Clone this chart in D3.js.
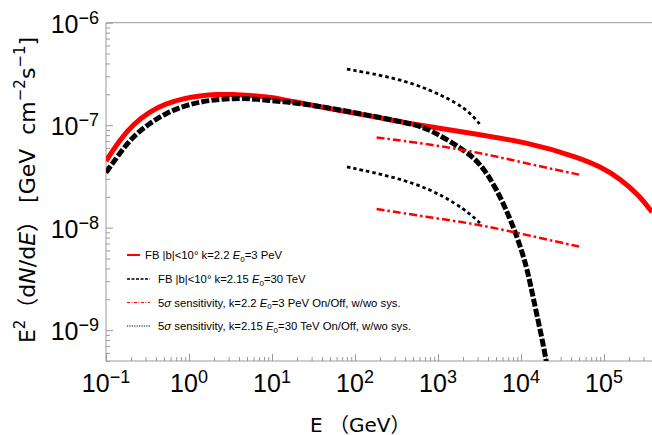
<!DOCTYPE html>
<html>
<head>
  <meta charset="utf-8">
  <title>FB spectrum and sensitivity</title>
  <style>
    html, body {
      margin: 0;
      padding: 0;
      background: #fff;
    }
    svg {
      display: block;
      font-family: "Liberation Sans", Arial, sans-serif;
    }
    .frame {
      stroke: #9a9a9a;
      stroke-width: 1;
      fill: none;
    }
    .tick line {
      stroke: #9a9a9a;
    }
    .curve {
      fill: none;
    }
    .title {
      font-family: "DejaVu Sans", "Noto Sans CJK SC", sans-serif;
      white-space: pre;
    }
  </style>
</head>
<body>
  <svg id="chart" width="652" height="435"></svg>

  <script src="https://d3js.org/d3.v7.min.js"></script>
  <script>
    // values: [E in GeV, E^2 dN/dE]
    const fbK22 = [
      [0.1, 4.47e-8], [0.148, 7.26e-8], [0.213, 1.02e-7], [0.339, 1.37e-7],
      [0.538, 1.63e-7], [0.853, 1.82e-7], [1.36, 1.94e-7], [2.16, 2.0e-7],
      [3.42, 2.0e-7], [5.43, 1.95e-7], [8.63, 1.89e-7], [13.7, 1.78e-7],
      [21.7, 1.65e-7], [50, 1.45e-7], [200, 1.18e-7], [505, 1.02e-7],
      [2020, 8.6e-8], [12800, 6.75e-8], [51000, 4.8e-8], [89500, 3.95e-8],
      [156000, 3.02e-8], [272000, 2.02e-8], [379000, 1.42e-8]
    ];
    const fbK215 = [
      [0.1, 3.45e-8], [0.148, 5.4e-8], [0.213, 7.8e-8], [0.339, 1.05e-7],
      [0.538, 1.32e-7], [0.853, 1.53e-7], [1.36, 1.69e-7], [2.16, 1.78e-7],
      [3.42, 1.82e-7], [5.43, 1.82e-7], [8.63, 1.75e-7], [13.7, 1.7e-7],
      [21.7, 1.63e-7], [50, 1.47e-7], [200, 1.19e-7], [505, 1.02e-7],
      [802, 9.1e-8], [2020, 5.8e-8], [3200, 4.3e-8], [5100, 2.4e-8],
      [8070, 1.05e-8], [11700, 4.3e-9], [14100, 2.0e-9], [20300, 5.3e-10],
      [25000, 1.6e-10]
    ];
    const sensK22High = [[182, 7.6e-8], [802, 6.5e-8], [3200, 5.4e-8], [12800, 4.16e-8], [54000, 3.25e-8]];
    const sensK22Low = [[182, 1.52e-8], [802, 1.26e-8], [3200, 1.07e-8], [12800, 8.35e-9], [54000, 6.45e-9]];
    const sensK215High = [[80, 3.53e-7], [318, 2.88e-7], [802, 2.22e-7], [1680, 1.65e-7], [2430, 1.32e-7], [3200, 1.02e-7]];
    const sensK215Low = [[80, 3.92e-8], [318, 3.08e-8], [802, 2.38e-8], [1680, 1.7e-8], [2430, 1.36e-8], [3200, 1.11e-8]];

    const xTickExps = [-1, 0, 1, 2, 3, 4, 5];
    const yTickExps = [-9, -8, -7, -6];
    const legendRows = [
      { parts: [["FB |b|<10° k=2.2 "], ["E", "i"], ["0", "sub"], ["=3 PeV"]] },
      { parts: [["FB |b|<10° k=2.15 "], ["E", "i"], ["0", "sub"], ["=30 TeV"]] },
      { parts: [["5"], ["σ", "i"], [" sensitivity, k=2.2 "], ["E", "i"], ["0", "sub"], ["=3 PeV On/Off, w/wo sys."]] },
      { parts: [["5"], ["σ", "i"], [" sensitivity, k=2.15 "], ["E", "i"], ["0", "sub"], ["=30 TeV On/Off, w/wo sys."]] }
    ];

    const svg = d3.select("#chart");
    const plotLeft = 106, plotRight = 652, plotTop = 22.7, plotBottom = 361;
    const decadePx = 83;

    const x = d3.scaleLog()
      .domain([0.1, Math.pow(10, -1 + (plotRight - plotLeft) / decadePx)])
      .range([plotLeft, plotRight]);
    const y = d3.scaleLog()
      .domain([5e-10, 1e-6])
      .range([plotBottom, plotTop]);

    svg.append("clipPath").attr("id", "plotClip")
      .append("rect")
      .attr("x", plotLeft).attr("y", plotTop)
      .attr("width", plotRight - plotLeft).attr("height", plotBottom - plotTop);

    // minor and major ticks
    const isDecade = v => Math.abs(Math.log10(v) - Math.round(Math.log10(v))) < 1e-6;
    const xMinor = x.ticks().filter(v => !isDecade(v));
    const yMinor = y.ticks().filter(v => !isDecade(v));

    svg.append("g").attr("transform", `translate(0,${plotBottom})`)
      .call(d3.axisBottom(x).tickValues(xMinor).tickSize(-4).tickFormat(""))
      .call(g => g.select(".domain").remove());
    svg.append("g").attr("transform", `translate(0,${plotBottom})`)
      .call(d3.axisBottom(x).tickValues(xTickExps.map(e => Math.pow(10, e))).tickSize(-7).tickFormat(""))
      .call(g => g.select(".domain").remove());
    svg.append("g").attr("transform", `translate(${plotLeft},0)`)
      .call(d3.axisLeft(y).tickValues(yMinor).tickSize(-4).tickFormat(""))
      .call(g => g.select(".domain").remove());
    svg.append("g").attr("transform", `translate(${plotLeft},0)`)
      .call(d3.axisLeft(y).tickValues(yTickExps.map(e => Math.pow(10, e))).tickSize(-7).tickFormat(""))
      .call(g => g.select(".domain").remove());

    svg.append("path").attr("class", "frame")
      .attr("d", `M${plotRight},${plotTop}H${plotLeft}V${plotBottom}H${plotRight}`);

    // tick labels 10^n
    function powerLabel(sel, e) {
      sel.append("tspan").text("10").attr("font-size", 25);
      sel.append("tspan").text(e < 0 ? "\u2212" + (-e) : String(e))
        .attr("font-size", 18).attr("dy", -9);
    }
    xTickExps.forEach(e => {
      svg.append("text")
        .attr("x", x(Math.pow(10, e)))
        .attr("y", 392)
        .attr("text-anchor", "middle")
        .call(powerLabel, e);
    });
    yTickExps.forEach(e => {
      svg.append("text")
        .attr("x", 99)
        .attr("y", y(Math.pow(10, e)) + 10)
        .attr("text-anchor", "end")
        .call(powerLabel, e);
    });

    // axis titles
    svg.append("text")
      .attr("class", "title")
      .attr("x", 310).attr("y", 431.5)
      .attr("font-size", 20)
      .text("E \uFF08GeV\uFF09");

    const yt = svg.append("text")
      .attr("class", "title")
      .attr("transform", "translate(35,190) rotate(-90)")
      .attr("text-anchor", "middle")
      .attr("font-size", 22);
    yt.append("tspan").text("E");
    yt.append("tspan").text("2").attr("font-size", 15).attr("dy", -10);
    yt.append("tspan").text("\uFF08d").attr("dy", 10);
    yt.append("tspan").text("N").style("font-style", "italic");
    yt.append("tspan").text("/d");
    yt.append("tspan").text("E").style("font-style", "italic");
    yt.append("tspan").text("\uFF09 [GeV  cm");
    yt.append("tspan").text("\u22122").attr("font-size", 15).attr("dy", -10);
    yt.append("tspan").text("s").attr("dy", 10);
    yt.append("tspan").text("\u22121").attr("font-size", 15).attr("dy", -10);
    yt.append("tspan").text("]").attr("dy", 10);

    // curves
    const line = d3.line()
      .x(d => x(d[0]))
      .y(d => y(d[1]))
      .curve(d3.curveBasis);

    const plot = svg.append("g").attr("clip-path", "url(#plotClip)");
    const series = [
      { data: fbK22, color: "#ff0000", width: 5, dash: null },
      { data: fbK215, color: "#000", width: 5, dash: "8,2.2" },
      { data: sensK22High, color: "#ff0000", width: 2.5, dash: "8,3,2.5,3" },
      { data: sensK22Low, color: "#ff0000", width: 2.5, dash: "8,3,2.5,3" },
      { data: sensK215High, color: "#000", width: 2.8, dash: "3.5,3" },
      { data: sensK215Low, color: "#000", width: 2.8, dash: "3.5,3" }
    ];
    series.forEach(s => {
      plot.append("path")
        .attr("class", "curve")
        .attr("d", line(s.data))
        .attr("stroke", s.color)
        .attr("stroke-width", s.width)
        .attr("stroke-dasharray", s.dash);
    });

    // legend
    const legendStyles = [
      { color: "#ff0000", width: 2, dash: null, x1: 127, x2: 140, tx: 145 },
      { color: "#000", width: 1.5, dash: "3,1.5", x1: 127, x2: 150, tx: 158 },
      { color: "#ff0000", width: 1, dash: "3,1.5,1,1.5", x1: 127, x2: 150, tx: 158 },
      { color: "#000", width: 1.2, dash: "1.2,1.2", x1: 127, x2: 150, tx: 158 }
    ];
    const rowY = [255, 279, 302.5, 326];
    legendRows.forEach((row, i) => {
      const st = legendStyles[i];
      svg.append("line")
        .attr("x1", st.x1).attr("x2", st.x2)
        .attr("y1", rowY[i]).attr("y2", rowY[i])
        .attr("stroke", st.color)
        .attr("stroke-width", st.width)
        .attr("stroke-dasharray", st.dash);
      const t = svg.append("text")
        .attr("x", st.tx).attr("y", rowY[i] + 4)
        .attr("font-size", 11.3);
      let shifted = false;
      row.parts.forEach(p => {
        const ts = t.append("tspan").text(p[0]);
        if (p[1] === "i") ts.style("font-style", "italic");
        if (p[1] === "sub") {
          ts.attr("font-size", 8).attr("dy", 2.5);
          shifted = true;
        } else if (shifted) {
          ts.attr("dy", -2.5);
          shifted = false;
        }
      });
    });
  </script>
</body>
</html>
